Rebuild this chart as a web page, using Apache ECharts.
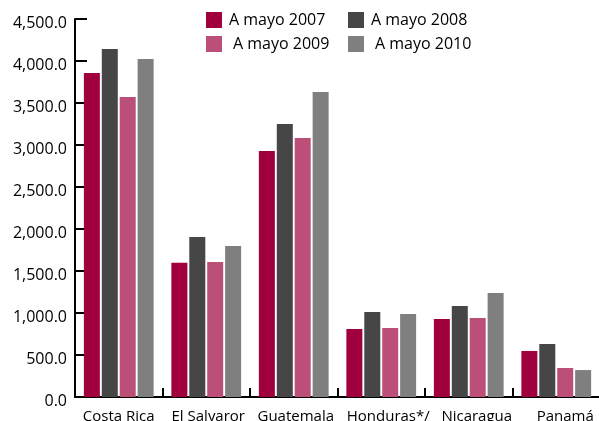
<!DOCTYPE html>
<html>
<head>
<meta charset="utf-8">
<script src="https://cdn.jsdelivr.net/npm/echarts@6/dist/echarts.min.js"></script>
<style>
  html, body { margin: 0; padding: 0; background: #fff; }
  #chart { width: 599px; height: 421px; }
</style>
</head>
<body>
<div id="chart"></div>
<script>
// Countries on the category axis
const countries = ['Costa Rica', 'El Salvaror', 'Guatemala', 'Honduras*/', 'Nicaragua', 'Panamá'];

// Values per period, one array per series
const mayo2007 = [3857, 1599, 2929, 810, 929, 548];
const mayo2008 = [4143, 1905, 3250, 1012, 1083, 631];
const mayo2009 = [3571, 1607, 3083, 821, 940, 345];
const mayo2010 = [4024, 1798, 3631, 988, 1238, 321];

const seriesNames = ['A mayo 2007', 'A mayo 2008', 'A mayo 2009', 'A mayo 2010'];
const seriesValues = [mayo2007, mayo2008, mayo2009, mayo2010];
const seriesColors = ['#A1003F', '#464646', '#BC4F78', '#7F7F7F'];

// Value axis ticks
const yMin = 0, yMax = 4500, yStep = 500;

const FONT = 'Open Sans';

// Horizontal nudge (px) of each country label from its slot centre
const labelNudge = [0, 2, 2, 7, 8, 9];

function fmt(v) {
  return v.toLocaleString('en-US', { minimumFractionDigits: 1, maximumFractionDigits: 1 });
}

const chart = echarts.init(document.getElementById('chart'), null, { renderer: 'canvas' });

const legendText = { fontFamily: FONT, fontSize: 16, color: '#000', padding: [0, 0, 0, 2] };
const legendText2 = { fontFamily: FONT, fontSize: 16, color: '#000', padding: [0, 0, 0, 6] };

chart.setOption({
  animation: false,
  backgroundColor: '#fff',
  grid: { left: 75, right: -1, top: 19, bottom: 24, containLabel: false, outerBoundsMode: 'none' },
  legend: [
    {
      orient: 'vertical', left: 206, top: 12, padding: 0,
      itemWidth: 16, itemHeight: 16, itemGap: 8, icon: 'rect',
      textStyle: legendText,
      data: [
        { name: seriesNames[0] },
        { name: seriesNames[2], textStyle: legendText2 }
      ]
    },
    {
      orient: 'vertical', left: 348, top: 12, padding: 0,
      itemWidth: 16, itemHeight: 16, itemGap: 8, icon: 'rect',
      textStyle: legendText,
      data: [
        { name: seriesNames[1] },
        { name: seriesNames[3], textStyle: legendText2 }
      ]
    }
  ],
  xAxis: {
    type: 'category',
    data: countries.map((c, i) => ({
      value: c,
      textStyle: { padding: [0, 0, 0, labelNudge[i] * 2] }
    })),
    axisLine: { show: true, lineStyle: { color: '#000', width: 2 } },
    axisTick: { show: true, inside: true, length: 9, alignWithLabel: false, lineStyle: { color: '#000', width: 2 } },
    axisLabel: { fontFamily: FONT, fontSize: 15, color: '#000', margin: 12, interval: 0 },
    splitLine: { show: false }
  },
  yAxis: {
    type: 'value',
    min: yMin, max: yMax, interval: yStep,
    axisLine: { show: true, lineStyle: { color: '#000', width: 2 } },
    axisTick: { show: true, inside: true, length: 12, lineStyle: { color: '#000', width: 2 } },
    axisLabel: {
      fontFamily: FONT, fontSize: 16, color: '#000', margin: 8,
      verticalAlign: 'top', lineHeight: 8,
      formatter: fmt
    },
    splitLine: { show: false }
  },
  series: seriesNames.map((name, i) => ({
    name,
    type: 'bar',
    data: seriesValues[i],
    barWidth: 16,
    barGap: '12%',
    itemStyle: { color: seriesColors[i] }
  }))
});
</script>
</body>
</html>
